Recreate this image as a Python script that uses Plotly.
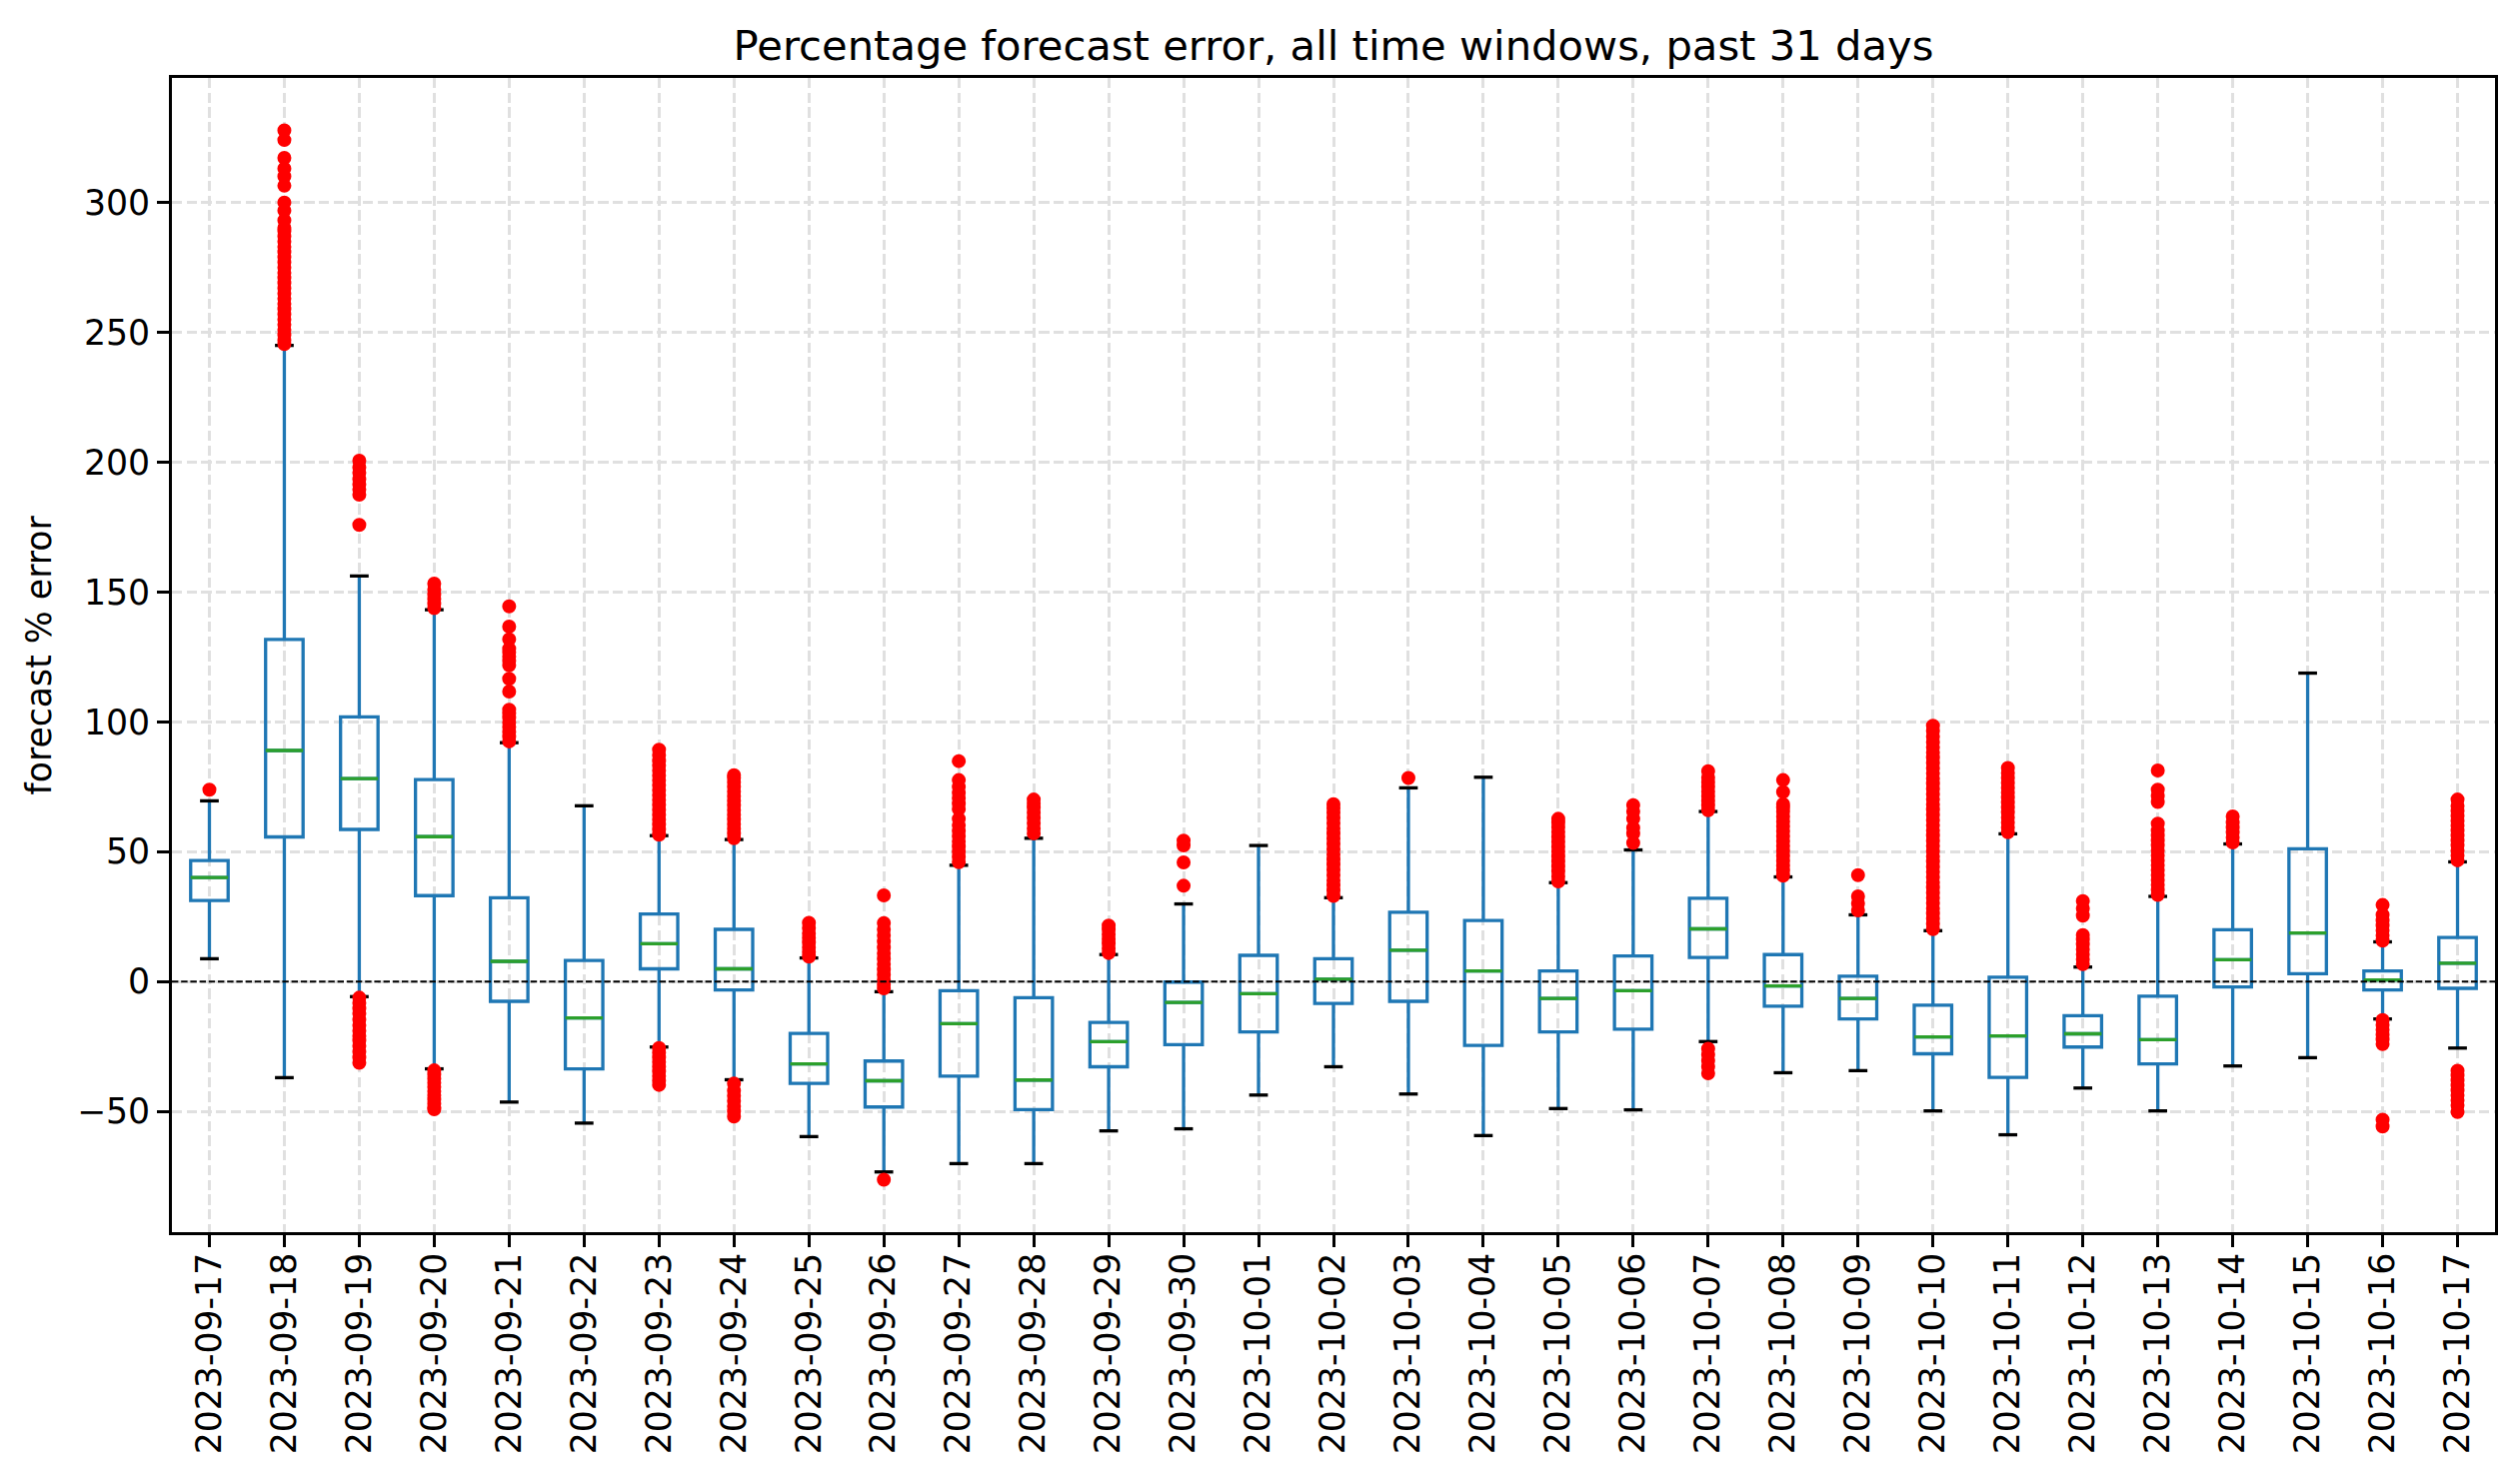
"""Percentage forecast error box plot, one box per day"""

import plotly.graph_objects as go

DATES = [
    "2023-09-17", "2023-09-18", "2023-09-19", "2023-09-20", "2023-09-21",
    "2023-09-22", "2023-09-23", "2023-09-24", "2023-09-25", "2023-09-26",
    "2023-09-27", "2023-09-28", "2023-09-29", "2023-09-30", "2023-10-01",
    "2023-10-02", "2023-10-03", "2023-10-04", "2023-10-05", "2023-10-06",
    "2023-10-07", "2023-10-08", "2023-10-09", "2023-10-10", "2023-10-11",
    "2023-10-12", "2023-10-13", "2023-10-14", "2023-10-15", "2023-10-16",
    "2023-10-17",
]

Q1 = [31.2, 55.7, 58.6, 33.1, -7.6, -33.6, 4.9, -3.2, -39.2, -48.3, -36.4,
      -49.3, -32.8, -24.3, -19.4, -8.4, -7.6, -24.6, -19.4, -18.3, 9.3, -9.5,
      -14.4, -27.8, -36.9, -25.2, -31.7, -2.1, 3.0, -3.2, -2.6]
MEDIAN = [40.1, 89.0, 78.2, 55.8, 7.8, -14.0, 14.6, 4.9, -31.7, -38.2, -16.2,
          -37.9, -23.1, -8.0, -4.7, 0.9, 12.1, 4.1, -6.5, -3.5, 20.3, -1.7,
          -6.5, -21.3, -20.9, -20.1, -22.4, 8.4, 18.7, 0.6, 7.1]
Q3 = [46.6, 131.8, 101.9, 77.8, 32.3, 8.1, 26.0, 20.1, -20.0, -30.6, -3.5,
      -6.2, -15.7, -0.2, 10.1, 8.8, 26.7, 23.5, 4.1, 9.9, 32.1, 10.4, 2.1,
      -9.1, 1.7, -13.1, -5.6, 20.0, 51.1, 4.1, 17.0]
WHISKER_LO = [8.8, -37.0, -5.8, -33.6, -46.4, -54.5, -25.2, -37.8, -59.7,
              -73.3, -70.1, -70.1, -57.5, -56.7, -43.7, -32.8, -43.3, -59.3,
              -48.9, -49.4, -23.1, -35.1, -34.3, -49.8, -59.0, -41.0, -49.8,
              -32.5, -29.3, -14.4, -25.6]
WHISKER_HI = [69.6, 245.0, 156.2, 143.2, 92.0, 67.7, 56.2, 54.7, 9.1, -3.9,
              44.8, 55.2, 10.4, 29.9, 52.4, 32.3, 74.6, 78.7, 38.1, 50.7, 65.5,
              40.3, 25.7, 19.6, 56.9, 5.6, 32.8, 53.0, 118.8, 15.3, 46.1]

OUTLIERS = [
    [73.9],
    [245.5, 247, 249, 251, 253, 255, 257, 259, 261, 263, 265, 267, 269, 271,
     273, 275, 277, 279, 281, 283, 285, 287, 289, 290.3, 293.2, 296.9, 300,
     306.5, 310.1, 313.1, 317.2, 324.1, 327.8],
    [175.9, 187.5, 189.5, 191.5, 193.5, 196, 198, 200.6, -6.2, -8.3, -10.4,
     -12.2, -14.6, -16.8, -19, -21, -22.7, -24.8, -27, -29.2, -31.3],
    [143.8, 145.5, 147.3, 149, 151, 153.3, -34.2, -35.8, -37.4, -39, -40.6,
     -42.2, -43.8, -45.4, -47, -48.4, -49.2],
    [92.5, 94.3, 96.1, 98, 99.8, 101.6, 103.2, 104.7, 111.7, 116.6, 121.8,
     123.5, 125.2, 126.8, 128.2, 131.8, 136.7, 144.5],
    [],
    [56.6, 58.5, 60.4, 62.3, 64.2, 66.1, 68, 69.9, 71.8, 73.7, 75.6, 77.5,
     79.4, 81.3, 83.2, 85.1, 87.2, 89.3, -25.6, -27.4, -29.2, -31, -32.8,
     -34.6, -36.4, -38.2, -39.8],
    [55.2, 57, 58.8, 60.6, 62.4, 64.2, 66, 67.8, 69.6, 71.4, 73.2, 75, 76.8,
     78.4, 79.5, -39.3, -42, -44, -46, -48, -50, -52],
    [9.6, 11.4, 13.2, 15, 16.8, 18.6, 20.6, 22.6],
    [33.2, 22.5, 20.1, 17.8, 15.4, 13.1, 10.9, 8.8, 6.7, 4.6, 2.6, 0.6, -1.2,
     -2.6, -76.3],
    [46, 48, 50, 52, 54, 56, 58, 60.2, 62.7, 66.4, 68.5, 70.6, 72.7, 75, 77.6,
     84.9],
    [57.1, 59, 61, 63, 65, 67, 68.6, 70.1],
    [11, 12.8, 14.6, 16.4, 18.2, 20, 21.6],
    [36.9, 45.9, 52.4, 54.3],
    [],
    [33, 35, 37, 39, 41, 43, 45, 47, 49, 51, 53, 55, 57, 59, 61, 63, 65, 66.8,
     68.3],
    [78.4],
    [],
    [38.6, 40.5, 42.4, 44.3, 46.2, 48.1, 50, 51.9, 53.8, 55.7, 57.6, 59.5,
     61.2, 62.7],
    [53.4, 57, 59.2, 62.7, 65.5, 67.9],
    [66, 67.8, 69.6, 71.4, 73.2, 75, 76.8, 78.6, 81, -25.9, -28.2, -30.5,
     -32.8, -35.3],
    [40.8, 42.7, 44.6, 46.5, 48.4, 50.3, 52.2, 54.1, 56, 57.9, 59.8, 61.7,
     63.6, 65.5, 67, 68.3, 73, 77.6],
    [27.4, 30.1, 32.8, 41],
    [20.2, 22.2, 24.2, 26.2, 28.2, 30.2, 32.2, 34.2, 36.2, 38.2, 40.2, 42.2,
     44.2, 46.2, 48.2, 50.2, 52.2, 54.2, 56.2, 58.2, 60.2, 62.2, 64.2, 66.2,
     68.2, 70.2, 72.2, 74.2, 76.2, 78.2, 80.2, 82.2, 84.2, 86.2, 88.2, 90.2,
     92.2, 94.4, 96.5, 98.5],
    [57.5, 59.4, 61.3, 63.2, 65.1, 67, 68.9, 70.8, 72.7, 74.6, 76.5, 78.4,
     80.3, 82.3],
    [6.7, 8.6, 10.5, 12.4, 14.3, 16.2, 17.9, 25.4, 28.2, 31],
    [33.4, 35.3, 37.2, 39.1, 41, 42.9, 44.8, 46.7, 48.6, 50.5, 52.4, 54.3,
     56.2, 58.1, 60.8, 69.2, 71.5, 73.9, 81.3],
    [53.6, 55.5, 57.4, 59.3, 61.2, 63.6],
    [],
    [15.8, 17.8, 19.7, 21.6, 23.5, 25.7, 29.5, -14.8, -16.7, -18.6, -20.5,
     -22.3, -24.1, -53.2, -55.8],
    [46.7, 48.6, 50.5, 52.4, 54.3, 56.2, 58.1, 60, 61.9, 63.8, 65.7, 67.6,
     70.1, -34.3, -36.2, -38.1, -40, -41.9, -43.8, -45.7, -47.6, -50.2],
]

Y_TICKS = [-50, 0, 50, 100, 150, 200, 250, 300]

BOX_WIDTH = 0.5
CAP_WIDTH = 0.25
LW = 3.3
FONT = "DejaVu Sans"

positions = list(range(1, len(DATES) + 1))


def segments(values, half):
    """x/y lists for short horizontal segments centred on each box"""
    xs, ys = [], []
    for pos, val in zip(positions, values):
        xs += [pos - half, pos + half, None]
        ys += [val, val, None]
    return xs, ys


fig = go.Figure()

fig.add_trace(
    go.Box(
        x=positions,
        q1=Q1,
        median=MEDIAN,
        q3=Q3,
        lowerfence=WHISKER_LO,
        upperfence=WHISKER_HI,
        width=BOX_WIDTH,
        whiskerwidth=0,
        boxpoints=False,
        line=dict(color="#1f77b4", width=LW),
        fillcolor="rgba(0,0,0,0)",
        showlegend=False,
        hoverinfo="skip",
    )
)

med_x, med_y = segments(MEDIAN, BOX_WIDTH / 2)
fig.add_trace(
    go.Scatter(x=med_x, y=med_y, mode="lines",
               line=dict(color="#2ca02c", width=LW), showlegend=False)
)

for whisker in (WHISKER_LO, WHISKER_HI):
    cap_x, cap_y = segments(whisker, CAP_WIDTH / 2)
    fig.add_trace(
        go.Scatter(x=cap_x, y=cap_y, mode="lines",
                   line=dict(color="black", width=LW), showlegend=False)
    )

flier_x, flier_y = [], []
for pos, vals in zip(positions, OUTLIERS):
    flier_x += [pos] * len(vals)
    flier_y += vals
fig.add_trace(
    go.Scatter(
        x=flier_x,
        y=flier_y,
        mode="markers",
        marker=dict(color="red", size=12, line=dict(color="red", width=2)),
        showlegend=False,
    )
)

fig.add_shape(
    type="line", xref="paper", x0=0, x1=1, yref="y", y0=0, y1=0,
    line=dict(color="black", width=1.8, dash="6.4px,2.8px"), layer="above",
)

axis_common = dict(
    showline=True,
    linecolor="black",
    linewidth=2.8,
    mirror=True,
    ticks="outside",
    ticklen=12,
    tickwidth=2.8,
    tickcolor="black",
    showgrid=True,
    gridcolor="#e0e0e0",
    gridwidth=2.8,
    griddash="10.3px,4.4px",
    zeroline=False,
    tickfont=dict(family=FONT, size=34.7, color="black"),
)

# the page body keeps an 8px margin, so the figure is sized to fit inside it
fig.update_layout(
    width=2504,
    height=1469,
    margin=dict(l=164, r=16, t=70, b=244),
    paper_bgcolor="white",
    plot_bgcolor="white",
    font=dict(family=FONT, size=34.7, color="black"),
    title=dict(
        text="Percentage forecast error, all time windows, past 31 days",
        font=dict(family=FONT, size=41.7, color="black"),
        x=0.5,
        xref="paper",
        xanchor="center",
        y=1 - 52 / 1469,
        yref="container",
        yanchor="bottom",
    ),
    xaxis=dict(
        axis_common,
        range=[0.5, len(DATES) + 0.5],
        tickmode="array",
        tickvals=positions,
        ticktext=DATES,
        tickangle=-90,
        ticklabelstandoff=-8,
    ),
    yaxis=dict(
        axis_common,
        range=[-96.5, 348.0],
        tickmode="array",
        tickvals=Y_TICKS,
    ),
    annotations=[
        dict(
            text="forecast % error",
            xref="paper",
            yref="paper",
            x=-134 / 2324,
            y=0.5,
            xanchor="center",
            yanchor="middle",
            textangle=-90,
            showarrow=False,
            font=dict(family=FONT, size=34.7, color="black"),
        )
    ],
)

fig.write_html("out.html")
